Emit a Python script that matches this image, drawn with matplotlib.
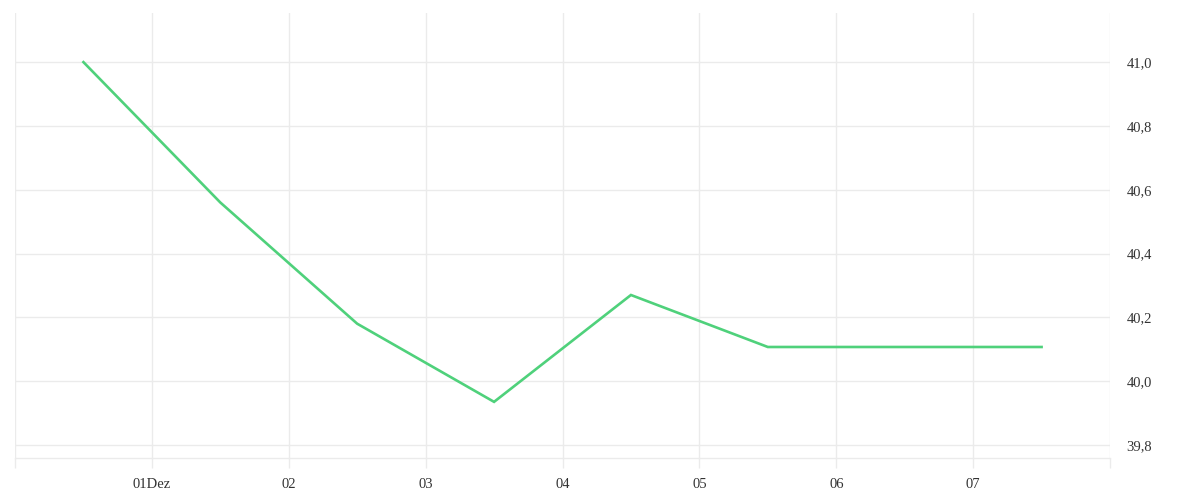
import matplotlib
matplotlib.use("Agg")
import matplotlib.pyplot as plt
import matplotlib.dates as mdates
import pandas as pd

# Data
dates = pd.to_datetime([
    "2023-11-30 12:00", "2023-12-01 12:00", "2023-12-02 12:00", "2023-12-03 12:00",
    "2023-12-04 12:00", "2023-12-05 12:00", "2023-12-06 12:00", "2023-12-07 12:00",
])
values = [41.0, 40.56, 40.18, 39.935, 40.27, 40.107, 40.107, 40.107]
tick_days = pd.date_range("2023-11-30", "2023-12-08", freq="D")
tick_labels = ["", "01Dez", "02", "03", "04", "05", "06", "07", ""]
y_ticks = [39.8, 40.0, 40.2, 40.4, 40.6, 40.8, 41.0]
y_labels = ["39,8", "40,0", "40,2", "40,4", "40,6", "40,8", "41,0"]

plt.rcParams["font.family"] = ["Liberation Serif", "DejaVu Serif"]
grid_c = "#ebebeb"

fig = plt.figure(figsize=(12, 5), dpi=100)
ax = fig.add_axes([15/1200, 42/500, (1110-15)/1200, (458-13)/500])

ax.plot(dates, values, color="#4fd17b", lw=1.9, solid_joinstyle="miter", zorder=3)

ax.set_xlim(tick_days[0], tick_days[-1])
ax.set_ylim(39.759, 41.154)

ax.set_xticks(tick_days)
ax.set_xticklabels(tick_labels)
ax.set_yticks(y_ticks)
ax.set_yticklabels(y_labels)

ax.yaxis.tick_right()
ax.tick_params(axis="y", length=0, pad=12, labelsize=10.5, labelcolor="#333333")
for lbl in ax.get_yticklabels():
    lbl.set_y(lbl.get_position()[1])
ax.tick_params(axis="x", length=7.2, width=1, color=grid_c, pad=7, labelsize=10.5, labelcolor="#333333")

ax.grid(True, color=grid_c, lw=1)
for s in ["top", "left", "right"]:
    ax.spines[s].set_visible(False)
ax.spines["bottom"].set_color(grid_c)
ax.spines["bottom"].set_linewidth(1)

fig.savefig("out.png", dpi=100, facecolor="white")
